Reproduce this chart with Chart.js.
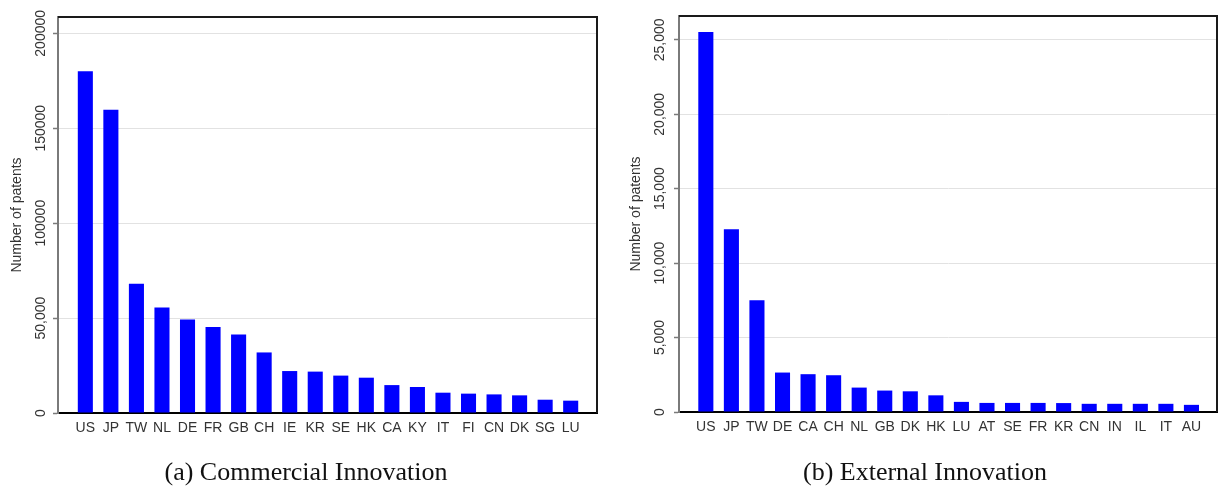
<!DOCTYPE html>
<html>
<head>
<meta charset="utf-8">
<script src="https://cdn.jsdelivr.net/npm/chart.js@4.4.1/dist/chart.umd.min.js"></script>
<style>
  html, body { margin: 0; padding: 0; background: #ffffff; }
  #wrap { position: relative; width: 1218px; height: 491px; overflow: hidden; background: #fff; }
  canvas { position: absolute; top: 0; }
  .cap { position: absolute; font-family: 'Liberation Serif', 'Times New Roman', serif; font-size: 26px; line-height: 26px; color: #111; text-align: center; white-space: nowrap; }
</style>
</head>
<body>
<div id="wrap">
  <canvas id="chartA" width="609" height="491" style="left:0px"></canvas>
  <canvas id="chartB" width="609" height="491" style="left:609px"></canvas>
  <div class="cap" id="capA" style="left:106px; width:400px; top:459px;">(a) Commercial Innovation</div>
  <div class="cap" id="capB" style="left:725px; width:400px; top:459px;">(b) External Innovation</div>
</div>
<script>
// ---- Data: panel (a) Commercial Innovation ----
const categoriesA = ['US','JP','TW','NL','DE','FR','GB','CH','IE','KR','SE','HK','CA','KY','IT','FI','CN','DK','SG','LU'];
const valuesA = [180000,159700,68100,55600,49300,45300,41300,31900,22100,21800,19700,18600,14700,13700,10700,10200,9800,9300,7000,6500];
const yTickValuesA = [0,50000,100000,150000,200000];
const yTickLabelsA = ['0','50,000','100000','150000','200000'];
const yMaxA = 208600;

// ---- Data: panel (b) External Innovation ----
const categoriesB = ['US','JP','TW','DE','CA','CH','NL','GB','DK','HK','LU','AT','SE','FR','KR','CN','IN','IL','IT','AU'];
const valuesB = [25530,12270,7500,2650,2540,2470,1640,1440,1390,1120,680,610,610,610,600,550,550,550,550,480];
const yTickValuesB = [0,5000,10000,15000,20000,25000];
const yTickLabelsB = ['0','5,000','10,000','15,000','20,000','25,000'];
const yMaxB = 26600;

const yTitle = 'Number of patents';
const SANS = "'Liberation Sans', Arial, Helvetica, sans-serif";

const framePlugin = {
  id: 'frame',
  afterDraw(chart) {
    const a = chart.chartArea, ctx = chart.ctx;
    ctx.save();
    ctx.strokeStyle = '#1a1a1a';
    ctx.lineWidth = 2;
    ctx.beginPath();
    ctx.moveTo(a.left, a.top);
    ctx.lineTo(a.right, a.top);
    ctx.lineTo(a.right, a.bottom);
    ctx.stroke();
    ctx.restore();
  }
};

const rotatedYLabels = {
  id: 'rotatedYLabels',
  afterDraw(chart, args, opts) {
    const s = chart.scales.y, ctx = chart.ctx;
    ctx.save();
    ctx.fillStyle = opts.color;
    ctx.font = opts.font;
    ctx.textAlign = 'center';
    ctx.textBaseline = 'middle';
    s.ticks.forEach(t => {
      const y = s.getPixelForValue(t.value);
      ctx.save();
      ctx.translate(opts.x, y);
      ctx.rotate(-Math.PI / 2);
      ctx.fillText(t.label, 0, 0);
      ctx.restore();
    });
    ctx.restore();
  }
};

function makeChart(id, cats, vals, tickVals, tickLabels, yMax, L) {
  const data = cats.map((c, i) => ({ x: i, y: vals[i] }));
  return new Chart(document.getElementById(id), {
    type: 'bar',
    data: {
      datasets: [{
        data: data,
        backgroundColor: '#0000ff',
        borderWidth: 0,
        categoryPercentage: 1,
        barPercentage: 0.59
      }]
    },
    options: {
      responsive: false,
      animation: false,
      events: [],
      layout: { padding: { left: 0, top: L.top, right: L.right, bottom: L.bottom } },
      plugins: {
        legend: { display: false },
        tooltip: { enabled: false },
        title: { display: false },
        rotatedYLabels: { x: L.labelX, font: "14px " + SANS, color: '#333' }
      },
      scales: {
        x: {
          type: 'linear',
          min: L.xMin,
          max: L.xMax,
          offset: false,
          grid: { display: false, drawTicks: false },
          border: { display: true, color: '#000', width: 2 },
          afterBuildTicks: s => { s.ticks = cats.map((c, i) => ({ value: i })); },
          ticks: {
            autoSkip: false,
            maxRotation: 0,
            minRotation: 0,
            padding: 7,
            color: '#333',
            font: { family: SANS, size: 14 },
            callback: v => (cats[v] !== undefined ? cats[v] : '')
          },
          afterFit: s => { s.height = L.xHeight; }
        },
        y: {
          type: 'linear',
          min: 0,
          max: yMax,
          afterBuildTicks: s => { s.ticks = tickVals.map(v => ({ value: v })); },
          ticks: {
            display: false,
            callback: v => { const k = tickVals.indexOf(v); return k >= 0 ? tickLabels[k] : ''; }
          },
          grid: {
            color: c => (c.tick && c.tick.value === 0 ? 'rgba(0,0,0,0)' : '#e2e2e2'),
            lineWidth: 1,
            tickColor: '#7a7a7a',
            tickLength: 5,
            tickWidth: 1.5
          },
          border: { display: true, color: '#7a7a7a', width: 2 },
          title: {
            display: true,
            text: yTitle,
            color: '#333',
            font: { family: SANS, size: 14 },
            padding: { top: L.titlePad, bottom: 0 }
          },
          afterFit: s => { s.width = L.yWidth; }
        }
      }
    },
    plugins: [framePlugin, rotatedYLabels]
  });
}

makeChart('chartA', categoriesA, valuesA, yTickValuesA, yTickLabelsA, yMaxA, {
  top: 17, right: 12, bottom: 38, xHeight: 40, yWidth: 58,
  xMin: -1.07, xMax: 20.03, labelX: 41.5, titlePad: 9
});
makeChart('chartB', categoriesB, valuesB, yTickValuesB, yTickLabelsB, yMaxB, {
  top: 16, right: 1, bottom: 39, xHeight: 40, yWidth: 70,
  xMin: -1.05, xMax: 20.0, labelX: 51, titlePad: 19
});
</script>
</body>
</html>
